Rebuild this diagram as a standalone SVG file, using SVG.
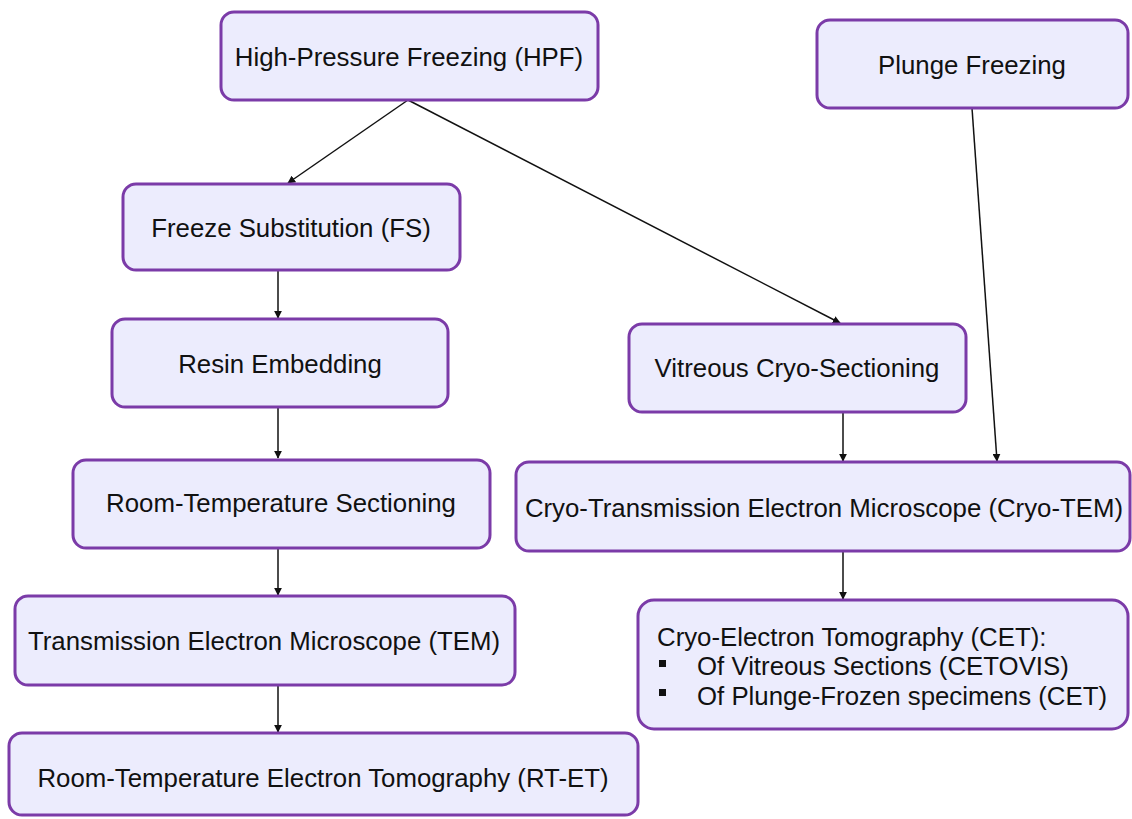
<svg xmlns="http://www.w3.org/2000/svg" width="1132" height="819" viewBox="0 0 1132 819">
<defs>
<style>
.box{fill:#ECECFD;stroke:#7B3BA8;stroke-width:3}
.t{font-family:"Liberation Sans",Arial,sans-serif;font-size:25.8px;fill:#111;text-anchor:middle;dominant-baseline:central}
.tl{font-family:"Liberation Sans",Arial,sans-serif;font-size:25.8px;fill:#111}
.c{stroke:#111;stroke-width:1.5;fill:none;marker-end:url(#ah)}
</style>
<marker id="ah" viewBox="0 0 10 10" refX="9" refY="5" markerWidth="8" markerHeight="8" orient="auto" markerUnits="userSpaceOnUse">
<path d="M0,0 L10,5 L0,10 z" fill="#111"/>
</marker>
</defs>
<rect width="1132" height="819" fill="#fff"/>
<g id="connectors">
<path class="c" d="M408,100 L288,183"/>
<path class="c" d="M408,100 L840,323"/>
<path class="c" d="M972,108 L997,461"/>
<path class="c" d="M278,270 L278,318"/>
<path class="c" d="M278,408 L278,458"/>
<path class="c" d="M278,548 L278,595"/>
<path class="c" d="M278,685 L278,732"/>
<path class="c" d="M843,412 L843,461"/>
<path class="c" d="M843,551 L843,599"/>
</g>
<g id="hpf"><rect class="box" x="221" y="12" width="377" height="88" rx="13"/><text class="t" x="409" y="57">High-Pressure Freezing (HPF)</text></g>
<g id="plunge"><rect class="box" x="817" y="20" width="311" height="88" rx="13"/><text class="t" x="972" y="65">Plunge Freezing</text></g>
<g id="fs"><rect class="box" x="123" y="184" width="337" height="86" rx="13"/><text class="t" x="291" y="228">Freeze Substitution (FS)</text></g>
<g id="resin"><rect class="box" x="112" y="319" width="336" height="88" rx="13"/><text class="t" x="280" y="364">Resin Embedding</text></g>
<g id="vitreous"><rect class="box" x="629" y="324" width="337" height="88" rx="13"/><text class="t" x="797" y="368">Vitreous Cryo-Sectioning</text></g>
<g id="rts"><rect class="box" x="73" y="460" width="417" height="88" rx="13"/><text class="t" x="281" y="503">Room-Temperature Sectioning</text></g>
<g id="cryotem"><rect class="box" x="516" y="462" width="614" height="89" rx="13"/><text class="t" x="824" y="508">Cryo-Transmission Electron Microscope (Cryo-TEM)</text></g>
<g id="tem"><rect class="box" x="15" y="596" width="500" height="89" rx="13"/><text class="t" x="264" y="641">Transmission Electron Microscope (TEM)</text></g>
<g id="cet"><rect class="box" x="638" y="600" width="490" height="129" rx="16"/>
<text class="tl" x="657" y="646">Cryo-Electron Tomography (CET):</text>
<rect x="659" y="660" width="7" height="7" fill="#111"/>
<text class="tl" x="697" y="675">Of Vitreous Sections (CETOVIS)</text>
<rect x="659" y="689" width="7" height="7" fill="#111"/>
<text class="tl" x="697" y="705">Of Plunge-Frozen specimens (CET)</text>
</g>
<g id="rtet"><rect class="box" x="9" y="733" width="629" height="82" rx="13"/><text class="t" x="323" y="778">Room-Temperature Electron Tomography (RT-ET)</text></g>
</svg>
